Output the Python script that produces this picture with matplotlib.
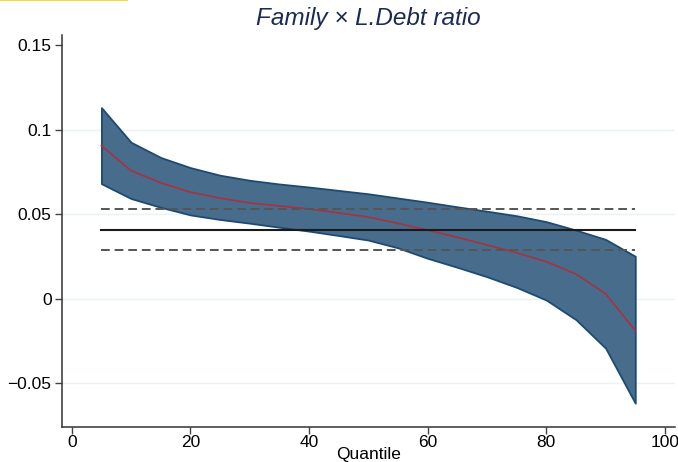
import matplotlib.pyplot as plt
from matplotlib.lines import Line2D

plt.rcParams['font.family'] = ['Liberation Sans', 'DejaVu Sans']

# quantile regression coefficients with confidence band
quantiles = [5, 10, 15, 20, 25, 30, 35, 40, 45, 50, 55, 60, 65, 70, 75, 80, 85, 90, 95]
coef = [0.0905, 0.0757, 0.0685, 0.0630, 0.0594, 0.0566, 0.0548, 0.0530, 0.0507, 0.0482,
        0.0445, 0.0405, 0.0362, 0.0317, 0.0271, 0.0218, 0.0145, 0.0028, -0.0190]
ci_upper = [0.1130, 0.0925, 0.0835, 0.0775, 0.0730, 0.0700, 0.0678, 0.0660, 0.0640, 0.0620,
            0.0595, 0.0570, 0.0543, 0.0517, 0.0490, 0.0455, 0.0405, 0.0350, 0.0250]
ci_lower = [0.0680, 0.0592, 0.0540, 0.0495, 0.0468, 0.0446, 0.0422, 0.0399, 0.0373, 0.0346,
            0.0300, 0.0238, 0.0185, 0.0129, 0.0066, -0.0009, -0.0125, -0.0294, -0.0620]

# OLS estimate and its interval
ols_coef = 0.0408
ols_upper = 0.0531
ols_lower = 0.0288

xticks = [0, 20, 40, 60, 80, 100]
yticks = [-0.05, 0, 0.05, 0.1, 0.15]
ytick_labels = ['\u22120.05', '0', '0.05', '0.1', '0.15']

fig = plt.figure(figsize=(6.78, 4.62), dpi=100)
ax = fig.add_axes([0.0914, 0.0764, 0.9042, 0.8478])

ax.fill_between(quantiles, ci_lower, ci_upper, facecolor='#486c8c',
                edgecolor='#1c4a73', linewidth=1.3, zorder=2)
ax.plot(quantiles, coef, color='#a8323e', linewidth=1.2, zorder=3)

x0, x1 = quantiles[0], quantiles[-1]
ax.plot([x0, x1], [ols_coef, ols_coef], color='#1a1a1a', linewidth=1.5, zorder=4)
ax.plot([x0, x1], [ols_upper, ols_upper], color='#555555', linewidth=1.4,
        linestyle=(0, (4.5, 2.5)), zorder=4)
ax.plot([x0, x1], [ols_lower, ols_lower], color='#555555', linewidth=1.4,
        linestyle=(0, (4.5, 2.5)), zorder=4)

ax.set_xlim(-1.65, 101.7)
ax.set_ylim(-0.0759, 0.156)
ax.set_xticks(xticks)
ax.set_yticks(yticks)
ax.set_yticklabels(ytick_labels)

for y in yticks[:-1]:
    ax.axhline(y, color='#eaf2f3', linewidth=1.0, zorder=1)

for side in ['top', 'right']:
    ax.spines[side].set_visible(False)
for side in ['left', 'bottom']:
    ax.spines[side].set_color('#333333')
    ax.spines[side].set_linewidth(1.1)

ax.tick_params(direction='out', length=5, width=1, color='#444444',
               labelsize=12.5, labelcolor='black')
ax.tick_params(axis='x', pad=1)
ax.tick_params(axis='y', pad=2.5)
ax.set_xlabel('Quantile', fontsize=12.5, labelpad=-2.5)
ax.set_title('Family \u00d7 L.Debt ratio', fontsize=17.5, style='italic',
             color='#1a2b57', pad=7)

fig.add_artist(Line2D([0, 127 / 678], [0.999, 0.999], color='#f5d742',
                      linewidth=1.5, transform=fig.transFigure))

fig.savefig('out.png', dpi=100)
